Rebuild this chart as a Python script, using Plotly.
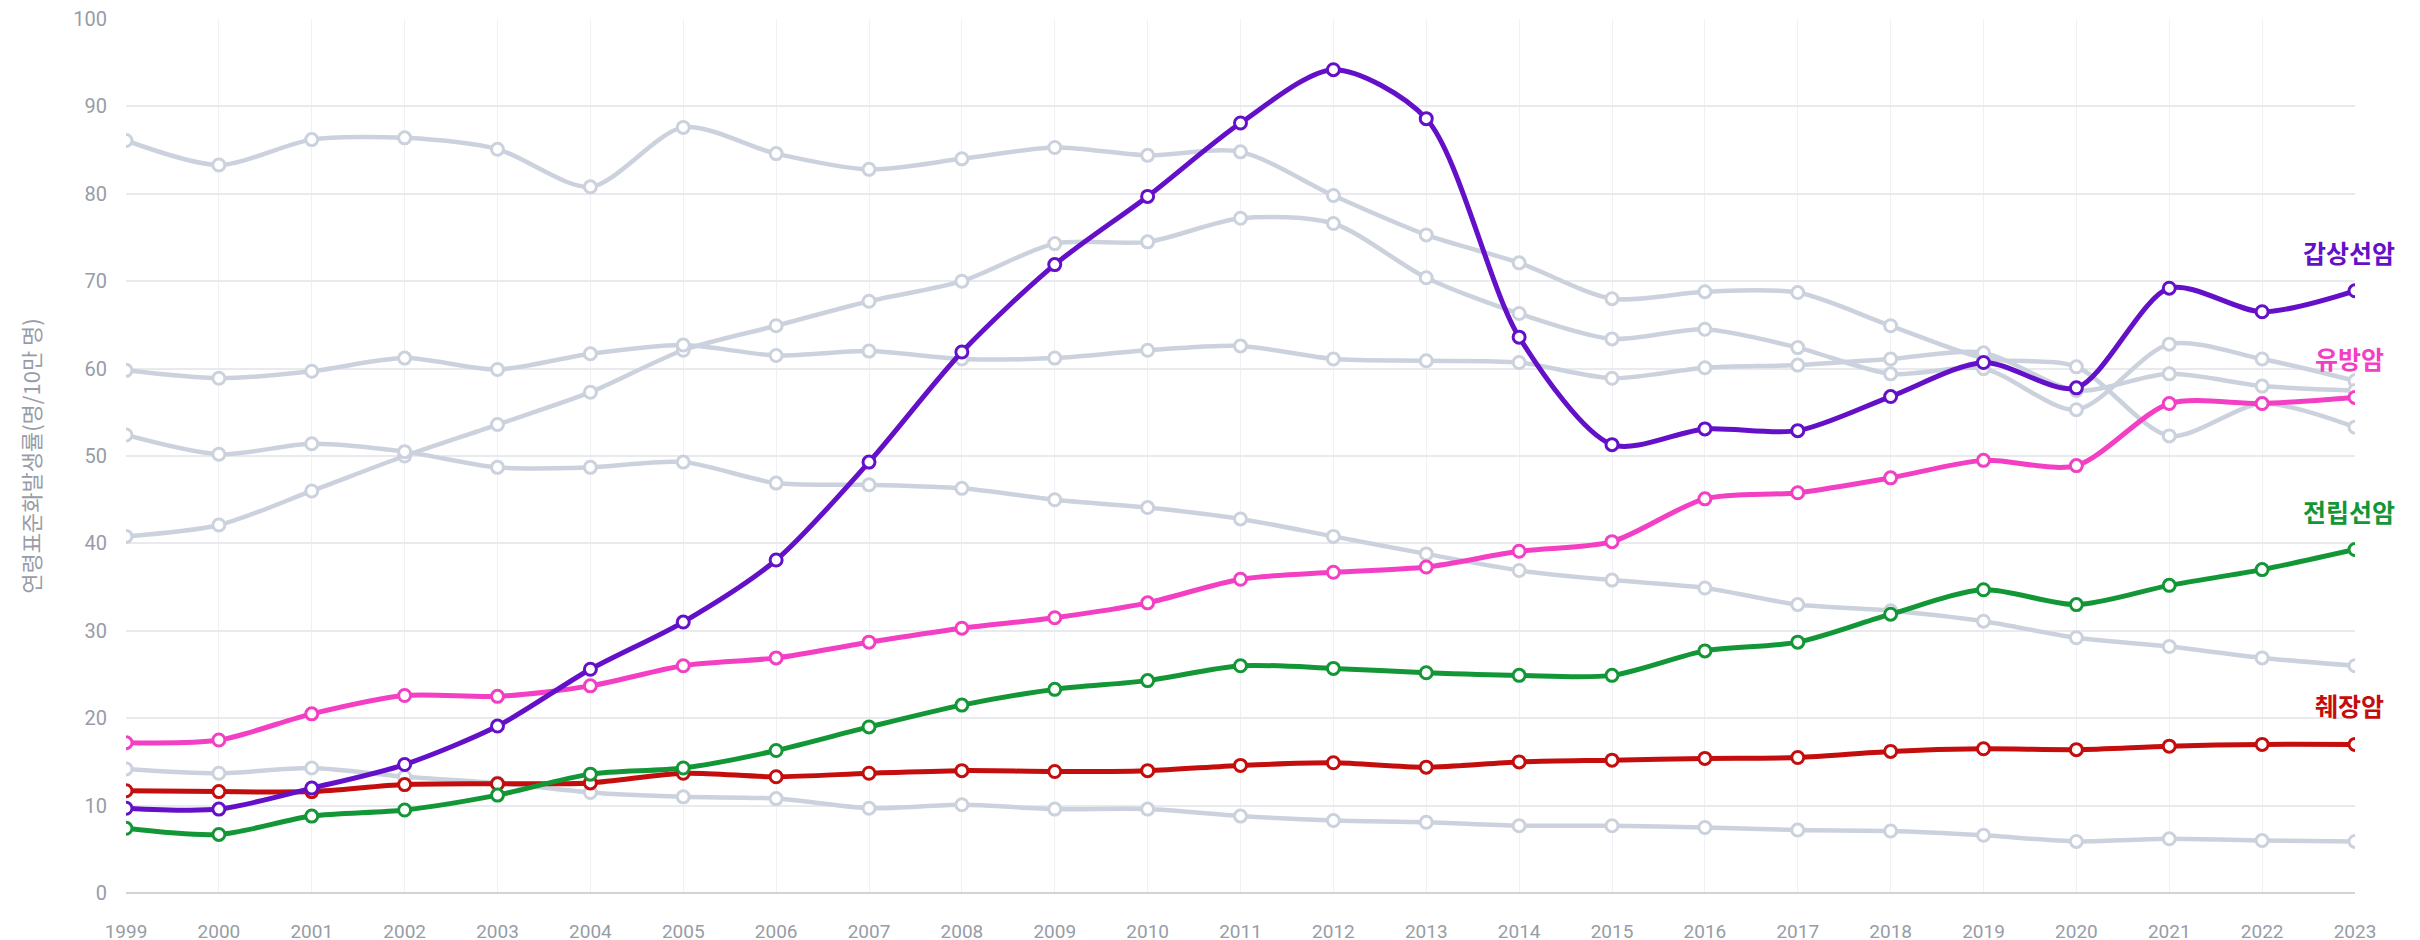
import plotly.graph_objects as go

years = list(range(1999, 2024))

# Highlighted series
thyroid = [9.7, 9.6, 12.0, 14.7, 19.1, 25.6, 31.0, 38.1, 49.3, 61.9, 71.9, 79.7, 88.1, 94.2, 88.6,
           63.6, 51.3, 53.1, 52.9, 56.8, 60.7, 57.8, 69.2, 66.5, 68.9]
breast = [17.2, 17.5, 20.5, 22.6, 22.5, 23.7, 26.0, 26.9, 28.7, 30.3, 31.5, 33.2, 35.9, 36.7, 37.3,
          39.1, 40.2, 45.1, 45.8, 47.5, 49.5, 48.9, 56.0, 56.0, 56.7]
prostate = [7.4, 6.7, 8.8, 9.5, 11.2, 13.6, 14.3, 16.3, 19.0, 21.5, 23.3, 24.3, 26.0, 25.7, 25.2,
            24.9, 24.9, 27.7, 28.7, 31.9, 34.7, 33.0, 35.2, 37.0, 39.3]
pancreas = [11.7, 11.6, 11.6, 12.4, 12.5, 12.6, 13.7, 13.3, 13.7, 14.0, 13.9, 14.0, 14.6, 14.9, 14.4,
            15.0, 15.2, 15.4, 15.5, 16.2, 16.5, 16.4, 16.8, 17.0, 17.0]

# Background (gray) series
stomach = [86.1, 83.3, 86.2, 86.4, 85.1, 80.8, 87.6, 84.6, 82.8, 84.0, 85.3, 84.4, 84.8, 79.8, 75.3,
           72.1, 68.0, 68.8, 68.7, 64.9, 61.2, 60.2, 52.3, 56.0, 53.3]
colorectal = [40.8, 42.1, 46.0, 50.0, 53.6, 57.3, 62.1, 64.9, 67.7, 70.0, 74.3, 74.5, 77.2, 76.6, 70.4,
              66.3, 63.4, 64.5, 62.4, 59.4, 60.0, 55.3, 62.8, 61.1, 58.6]
lung = [59.8, 58.9, 59.7, 61.2, 59.9, 61.7, 62.7, 61.5, 62.0, 61.1, 61.2, 62.1, 62.6, 61.1, 60.9,
        60.7, 58.9, 60.1, 60.4, 61.1, 61.8, 57.5, 59.4, 58.0, 57.5]
liver = [52.4, 50.2, 51.4, 50.5, 48.7, 48.7, 49.3, 46.9, 46.7, 46.3, 45.0, 44.1, 42.8, 40.8, 38.8,
         36.9, 35.8, 34.9, 33.0, 32.3, 31.1, 29.2, 28.2, 26.9, 26.0]
cervix = [14.2, 13.7, 14.3, 13.3, 12.6, 11.5, 11.0, 10.8, 9.7, 10.1, 9.6, 9.6, 8.8, 8.3, 8.1,
          7.7, 7.7, 7.5, 7.2, 7.1, 6.6, 5.9, 6.2, 6.0, 5.9]

gray_names = ["위암", "대장암", "폐암", "간암", "자궁경부암"]
gray_values = [stomach, colorectal, lung, liver, cervix]

hl_names = ["췌장암", "전립선암", "유방암", "갑상선암"]
hl_values = [pancreas, prostate, breast, thyroid]
hl_colors = ["#c40d0d", "#139636", "#f23fc4", "#6410c8"]

GRAY = "#cbd2dd"
TICK = "#979ca6"

fig = go.Figure()

for name, vals in zip(gray_names, gray_values):
    fig.add_trace(go.Scatter(
        x=years, y=vals, name=name, mode="lines+markers",
        line=dict(color=GRAY, width=4.5, shape="spline", smoothing=0.8),
        marker=dict(symbol="circle", size=12, color="white",
                    line=dict(color=GRAY, width=3)),
        showlegend=False,
    ))

for name, vals, col in zip(hl_names, hl_values, hl_colors):
    fig.add_trace(go.Scatter(
        x=years, y=vals, name=name, mode="lines+markers",
        line=dict(color=col, width=5, shape="spline", smoothing=0.8),
        marker=dict(symbol="circle", size=12, color="white",
                    line=dict(color=col, width=3)),
        showlegend=False,
    ))
    fig.add_annotation(
        x=years[-1], y=vals[-1], xref="x", yref="y",
        text=f"<b>{name}</b>", showarrow=False,
        xanchor="center", yanchor="middle", xshift=-6, yshift=39,
        font=dict(family="Noto Sans CJK KR", size=25, color=col),
    )

fig.update_layout(
    width=2420, height=940,
    margin=dict(l=118, r=73, t=11, b=55),
    paper_bgcolor="white", plot_bgcolor="white",
    font=dict(family="Noto Sans CJK KR", color=TICK),
)
fig.update_xaxes(
    range=[1999, 2023], tickmode="array", tickvals=years,
    ticktext=[str(y) for y in years],
    showgrid=True, gridcolor="#eff1f4", gridwidth=1,
    zeroline=False, showline=False, automargin=False,
    tickfont=dict(family="Roboto", size=19, color=TICK),
    ticks="", ticklabelstandoff=25, ticklabeloverflow="allow",
)
fig.update_yaxes(
    range=[0, 100], tickmode="array", tickvals=list(range(0, 101, 10)),
    showgrid=True, gridcolor="#e8eaee", gridwidth=1.5,
    zeroline=True, zerolinecolor="#d3d3d3", zerolinewidth=2,
    showline=False, automargin=False,
    tickfont=dict(family="Roboto", size=20, color=TICK),
    ticks="", ticklabelstandoff=18, ticklabeloverflow="allow",
    title=dict(text="연령표준화발생률(명/10만 명)", standoff=26,
               font=dict(family="Noto Sans CJK KR", size=22, color=TICK)),
)

fig.write_html("out.html")
